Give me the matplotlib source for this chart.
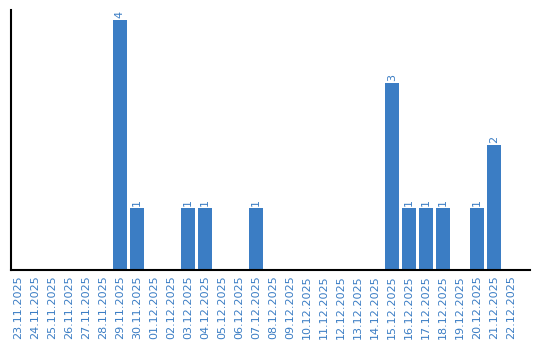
import matplotlib.pyplot as plt
import pandas as pd

# ============================
# DATA
# ============================

dates = pd.date_range("2025-11-23", "2025-12-22", freq="D")
labels = [d.strftime("%d.%m.%Y") for d in dates]

counts = {
    "29.11.2025": 4,
    "30.11.2025": 1,
    "03.12.2025": 1,
    "04.12.2025": 1,
    "07.12.2025": 1,
    "15.12.2025": 3,
    "16.12.2025": 1,
    "17.12.2025": 1,
    "18.12.2025": 1,
    "20.12.2025": 1,
    "21.12.2025": 2,
}
values = [counts.get(l, 0) for l in labels]

blue = "#3b7dc4"

# ============================
# CHART
# ============================

fig = plt.figure(figsize=(5.4, 3.4), dpi=100)
ax = fig.add_axes([0.0204, 0.206, 0.9611, 0.764])

x = list(range(len(labels)))
ax.bar(x, values, width=0.82, color=blue)

for xi, v in zip(x, values):
    if v > 0:
        ax.text(xi, v + 0.03, str(v), rotation=90, ha="center", va="bottom",
                fontsize=8, color=blue)

ax.set_xlim(-0.4, 30.1)
ax.set_ylim(0, 4.16)
ax.set_xticks(x)
ax.set_xticklabels(labels, rotation=90, fontsize=8, color=blue)
ax.tick_params(axis="x", length=0, pad=4)
ax.set_yticks([])

ax.spines["top"].set_visible(False)
ax.spines["right"].set_visible(False)
ax.spines["left"].set_linewidth(1.5)
ax.spines["bottom"].set_linewidth(1.5)

fig.savefig("out.png", dpi=100)
